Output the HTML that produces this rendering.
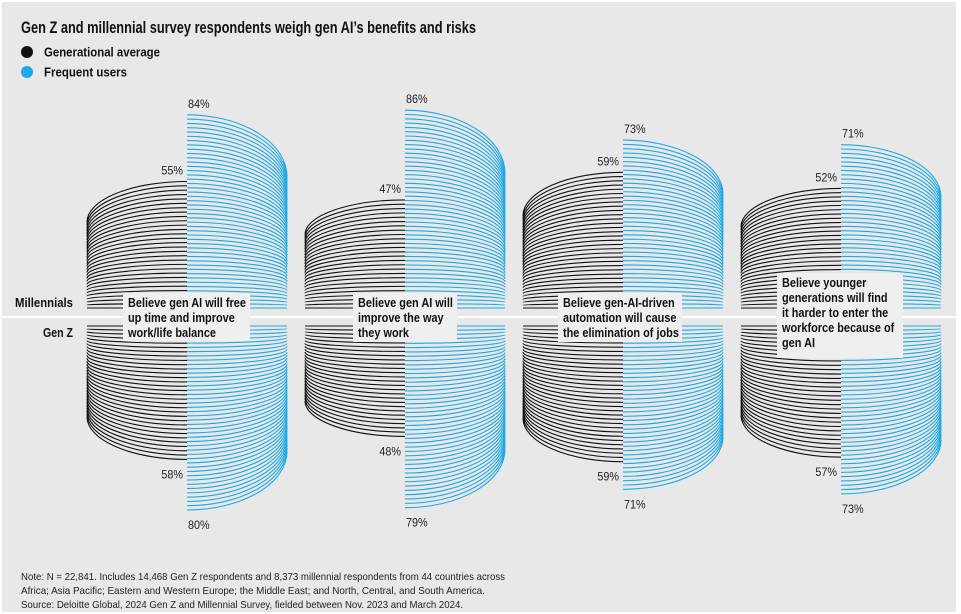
<!DOCTYPE html>
<html><head><meta charset="utf-8"><style>
html,body{margin:0;padding:0;background:#fff;}
svg{display:block;}
text{font-family:"Liberation Sans Narrow","Liberation Sans",sans-serif;}
</style></head><body>
<svg id="chart" width="961" height="614" viewBox="0 0 961 614">
<rect x="2" y="2" width="954" height="610" fill="#e8e8e8"/>
<text x="21" y="33" font-size="17" font-weight="bold" fill="#111" textLength="455" lengthAdjust="spacingAndGlyphs">Gen Z and millennial survey respondents weigh gen AI’s benefits and risks</text>
<g>
<circle cx="27" cy="52" r="6" fill="#111"/>
<text x="44" y="56.5" font-size="13" font-weight="bold" fill="#111" textLength="116" lengthAdjust="spacingAndGlyphs">Generational average</text>
<circle cx="27" cy="72" r="6" fill="#1fa8e2"/>
<text x="44" y="76.5" font-size="13" font-weight="bold" fill="#111" textLength="83" lengthAdjust="spacingAndGlyphs">Frequent users</text>
</g>
<line x1="2" y1="317" x2="956" y2="317" stroke="#fff" stroke-width="2"/>
<text x="15" y="307" font-size="13" font-weight="bold" fill="#111" textLength="58" lengthAdjust="spacingAndGlyphs">Millennials</text>
<text x="43" y="337" font-size="13" font-weight="bold" fill="#111" textLength="30" lengthAdjust="spacingAndGlyphs">Gen Z</text>
<g id="marks"></g>
<g id="boxes"></g>
<g font-size="10.5" fill="#222">
<text x="21" y="580" textLength="484" lengthAdjust="spacingAndGlyphs">Note: N = 22,841. Includes 14,468 Gen Z respondents and 8,373 millennial respondents from 44 countries across</text>
<text x="21" y="594" textLength="464" lengthAdjust="spacingAndGlyphs">Africa; Asia Pacific; Eastern and Western Europe; the Middle East; and North, Central, and South America.</text>
<text x="21" y="608" textLength="442" lengthAdjust="spacingAndGlyphs">Source: Deloitte Global, 2024 Gen Z and Millennial Survey, fielded between Nov. 2023 and March 2024.</text>
</g>
</svg>
<script>
const categories = [
 ["Believe gen AI will free","up time and improve","work/life balance"],
 ["Believe gen AI will","improve the way","they work"],
 ["Believe gen-AI-driven","automation will cause","the elimination of jobs"],
 ["Believe younger","generations will find","it harder to enter the","workforce because of","gen AI"]
];
const millennialAvg = [55,47,59,52];
const millennialFreq = [84,86,73,71];
const genzAvg = [58,48,59,57];
const genzFreq = [80,79,71,73];

const NS="http://www.w3.org/2000/svg";
const marks=document.getElementById('marks');
const boxes=document.getElementById('boxes');
const panelX = i => 187 + i*218;
const HALF=100, SCALE=2.3, TOPBASE=308, BOTBASE=326, STEP=4.3;
const yTop = v => TOPBASE - SCALE*v;
const yBot = v => BOTBASE + SCALE*v;
const BLACK="#111", BLUE="#1fa8e2";

function condense(t, f){
  const L=t.getComputedTextLength();
  if(L>0){ t.setAttribute('textLength',(L*f).toFixed(1)); t.setAttribute('lengthAdjust','spacingAndGlyphs'); }
}
function stack(cx, v, dir, side, color, name){
  const g=document.createElementNS(NS,'g');
  
  
  let d="";
  const h=SCALE*v;
  const n=Math.max(1,Math.round(h/STEP));
  const st=h/n;
  for(let i=0;i<=n;i++){
    const hi=h-i*st;
    const a=0.32*hi;
    const xe=cx+side*HALF;
    if(dir<0){
      const yc=TOPBASE-hi, ye=yc+a;
      const sweep = side<0?0:1;
      d+=`M${cx},${yc.toFixed(2)}`+(a>0.3?`A${HALF},${a.toFixed(2)} 0 0 ${sweep} ${xe},${ye.toFixed(2)}`:`L${xe},${ye.toFixed(2)}`);
    } else {
      const yc=BOTBASE+hi, ye=yc-a;
      const sweep = side<0?1:0;
      d+=`M${cx},${yc.toFixed(2)}`+(a>0.3?`A${HALF},${a.toFixed(2)} 0 0 ${sweep} ${xe},${ye.toFixed(2)}`:`L${xe},${ye.toFixed(2)}`);
    }
  }
  const p=document.createElementNS(NS,'path');
  p.setAttribute('d',d);
  p.setAttribute('fill','none');
  p.setAttribute('stroke',color);
  p.setAttribute('stroke-width','1.1');
  
  
  g.appendChild(p);
  marks.appendChild(g);
}
function label(x,y,txt,anchor,name){
  const t=document.createElementNS(NS,'text');
  t.setAttribute('x',x);t.setAttribute('y',y);
  t.setAttribute('font-size','12');
  t.setAttribute('fill','#222');
  t.setAttribute('text-anchor',anchor);
  t.textContent=txt;
  
  
  marks.appendChild(t);
  condense(t,0.9);
}
const boxGeom=[[123,293,127,48],[353,293,104,49],[558,293,124,49],[777,273,126,85]];
for(let i=0;i<4;i++){
  const cx=panelX(i);
  stack(cx, millennialAvg[i], -1, -1, BLACK, 'millennial-average-'+(i+1));
  stack(cx, millennialFreq[i], -1, 1, BLUE, 'millennial-frequent-'+(i+1));
  stack(cx, genzAvg[i], 1, -1, BLACK, 'genz-average-'+(i+1));
  stack(cx, genzFreq[i], 1, 1, BLUE, 'genz-frequent-'+(i+1));
  label(cx-4, yTop(millennialAvg[i])-7, millennialAvg[i]+'%', 'end', 'millennial-average-value-'+(i+1));
  label(cx+1, yTop(millennialFreq[i])-7, millennialFreq[i]+'%', 'start', 'millennial-frequent-value-'+(i+1));
  label(cx-4, yBot(genzAvg[i])+19, genzAvg[i]+'%', 'end', 'genz-average-value-'+(i+1));
  label(cx+1, yBot(genzFreq[i])+19, genzFreq[i]+'%', 'start', 'genz-frequent-value-'+(i+1));
  const [bx,by,bw,bh]=boxGeom[i];
  const r=document.createElementNS(NS,'rect');
  r.setAttribute('x',bx);r.setAttribute('y',by);r.setAttribute('width',bw);r.setAttribute('height',bh);
  r.setAttribute('fill','#efefef');
  
  
  boxes.appendChild(r);
  categories[i].forEach((ln,j)=>{
    const t=document.createElementNS(NS,'text');
    t.setAttribute('x',bx+5);t.setAttribute('y',by+14+j*15);
    t.setAttribute('font-size','13');t.setAttribute('font-weight','bold');t.setAttribute('fill','#111');
    t.textContent=ln;
    
    
    boxes.appendChild(t);
    condense(t,0.84);
  });
}
</script>
</body></html>
